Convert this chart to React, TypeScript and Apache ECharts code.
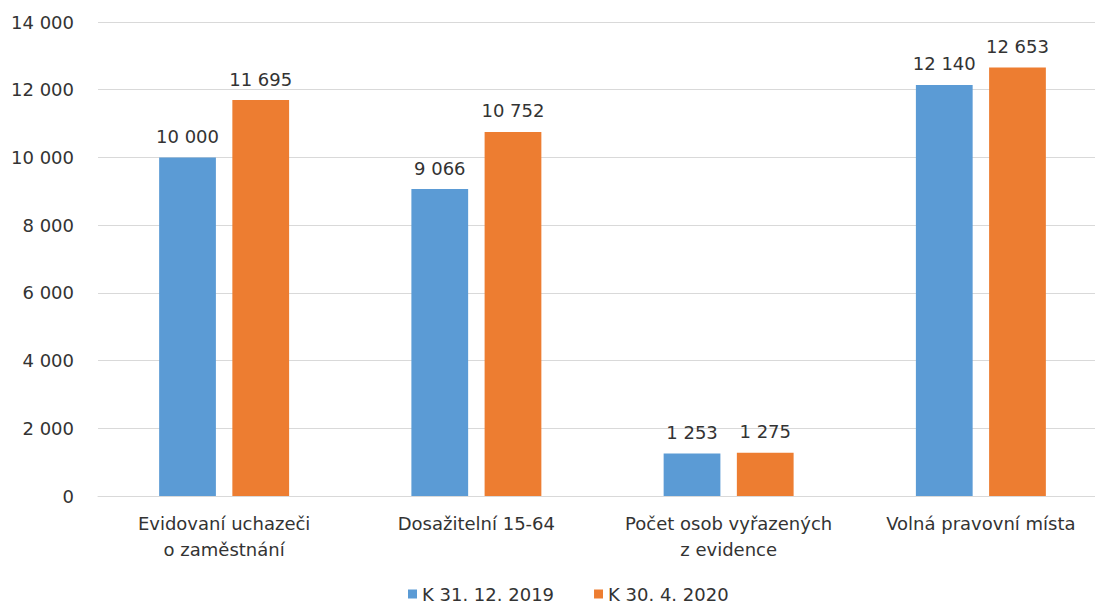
import React, { useEffect, useRef } from "react";
import * as echarts from "echarts";

const categories = [
  "Evidovaní uchazeči\no zaměstnání",
  "Dosažitelní 15-64",
  "Počet osob vyřazených\nz evidence",
  "Volná pravovní místa",
];
const series2019 = [10000, 9066, 1253, 12140];
const series2020 = [11695, 10752, 1275, 12653];
const seriesNames = ["K 31. 12. 2019", "K 30. 4. 2020"];
const yTicks = { min: 0, max: 14000, interval: 2000 };

const fmt = (v: number) => String(v).replace(/\B(?=(\d{3})+(?!\d))/g, " ");

const FONT = "'DejaVu Sans', sans-serif";
const TXT = "#333333";

export default function App() {
  const ref = useRef<HTMLDivElement>(null);
  useEffect(() => {
    if (!ref.current) return;
    const chart = echarts.init(ref.current, undefined, { renderer: "svg" });
    chart.setOption({
      animation: false,
      textStyle: { fontFamily: FONT },
      grid: { left: 98, right: 0, top: 22, bottom: 109, containLabel: false },
      legend: {
        top: 585,
        left: 408,
        padding: 0,
        itemWidth: 9,
        itemHeight: 9,
        itemGap: 40,
        icon: "rect",
        textStyle: { fontSize: 18, color: TXT, fontFamily: FONT },
        data: seriesNames,
      },
      xAxis: {
        type: "category",
        data: categories,
        axisLine: { lineStyle: { color: "#D9D9D9", width: 1 } },
        axisTick: { show: false },
        axisLabel: { interval: 0, color: TXT, fontSize: 18, margin: 14, lineHeight: 26, fontFamily: FONT },
      },
      yAxis: {
        type: "value",
        min: yTicks.min,
        max: yTicks.max,
        interval: yTicks.interval,
        axisLine: { show: false },
        axisTick: { show: false },
        splitLine: { lineStyle: { color: "#D9D9D9", width: 1 } },
        axisLabel: { color: TXT, fontSize: 18, margin: 24, formatter: (v: number) => fmt(v), fontFamily: FONT },
      },
      series: [
        {
          name: seriesNames[0],
          type: "bar",
          data: series2019,
          barWidth: "22.5%",
          barGap: "29%",
          itemStyle: { color: "#5B9BD5" },
          label: { show: true, position: "top", distance: 12, color: TXT, fontSize: 18, fontFamily: FONT, formatter: (p: any) => fmt(p.value) },
        },
        {
          name: seriesNames[1],
          type: "bar",
          data: series2020,
          barWidth: "22.5%",
          itemStyle: { color: "#ED7D31" },
          label: { show: true, position: "top", distance: 12, color: TXT, fontSize: 18, fontFamily: FONT, formatter: (p: any) => fmt(p.value) },
        },
      ],
    });
    return () => chart.dispose();
  }, []);
  return (
    <div style={{ position: "absolute", left: 0, top: 0, width: 1095, height: 605, overflow: "hidden", background: "#fff" }}>
      <div ref={ref} style={{ width: 1107, height: 605 }} />
    </div>
  );
}
